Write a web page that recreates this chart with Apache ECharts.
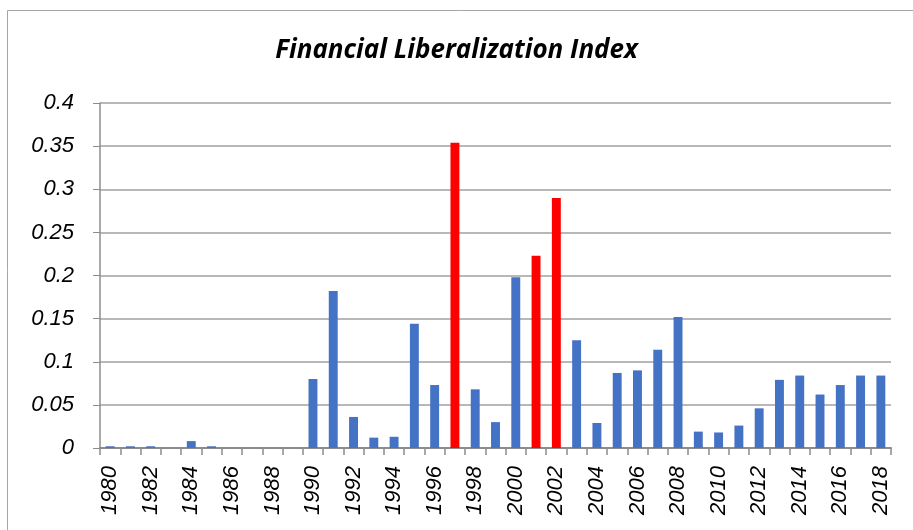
<!DOCTYPE html>
<html><head><meta charset="utf-8">
<script src="https://cdn.jsdelivr.net/npm/echarts@6/dist/echarts.min.js"></script>
<style>html,body{margin:0;padding:0;background:#fff}#c{width:913px;height:530px}</style>
</head><body><div id="c"></div>
<script>
const years = [];
for (let y = 1980; y <= 2018; y++) years.push(String(y));
const values = [0.002,0.002,0.002,0,0.008,0.002,0,0,0,0,
  0.080,0.182,0.036,0.012,0.013,0.144,0.073,0.354,0.068,0.030,
  0.198,0.223,0.290,0.125,0.029,0.087,0.090,0.114,0.152,0.019,
  0.018,0.026,0.046,0.079,0.084,0.062,0.073,0.084,0.084];
const highlightYears = ['1997','2001','2002'];
const yTicks = ['0','0.05','0.1','0.15','0.2','0.25','0.3','0.35','0.4'];
const titleText = 'Financial Liberalization Index';

const chart = echarts.init(document.getElementById('c'));
const font = 'Liberation Sans';
chart.setOption({
  animation: false,
  backgroundColor: '#fff',
  title: {text: titleText, left: 'center', top: 33,
    textStyle: {fontFamily: 'Open Sans', fontSize: 26, fontStyle: 'italic', fontWeight: 'bold', color: '#000'}},
  graphic: [{type: 'rect', shape: {x: 7.5, y: 10.5, width: 920, height: 540},
    style: {fill: 'none', stroke: '#A6A6A6', lineWidth: 1}, z: -1}],
  grid: {left: 100, right: 22, top: 103, bottom: 82},
  xAxis: {type: 'category', data: years,
    axisLine: {lineStyle: {color: '#8C8C8C', width: 2}},
    axisTick: {show: true, interval: 0, length: 7, lineStyle: {color: '#8C8C8C', width: 1.5}},
    axisLabel: {interval: 1, rotate: 90, margin: 18, fontFamily: font, fontSize: 22, fontStyle: 'italic', color: '#000'}},
  yAxis: {type: 'value', min: 0, max: 0.4, interval: 0.05,
    axisLine: {show: true, lineStyle: {color: '#8C8C8C', width: 1.5}},
    axisTick: {show: true, length: 7, lineStyle: {color: '#8C8C8C'}},
    splitLine: {lineStyle: {color: '#A0A0A0', width: 1.5}},
    axisLabel: {margin: 26, fontFamily: font, fontSize: 22, fontStyle: 'italic', color: '#000',
      formatter: v => yTicks[Math.round(v / 0.05)]}},
  series: [{type: 'bar', barWidth: '44%',
    data: values.map((v, i) => ({value: v,
      itemStyle: {color: highlightYears.includes(years[i]) ? '#FF0000' : '#4472C4'}}))}]
});
</script></body></html>
